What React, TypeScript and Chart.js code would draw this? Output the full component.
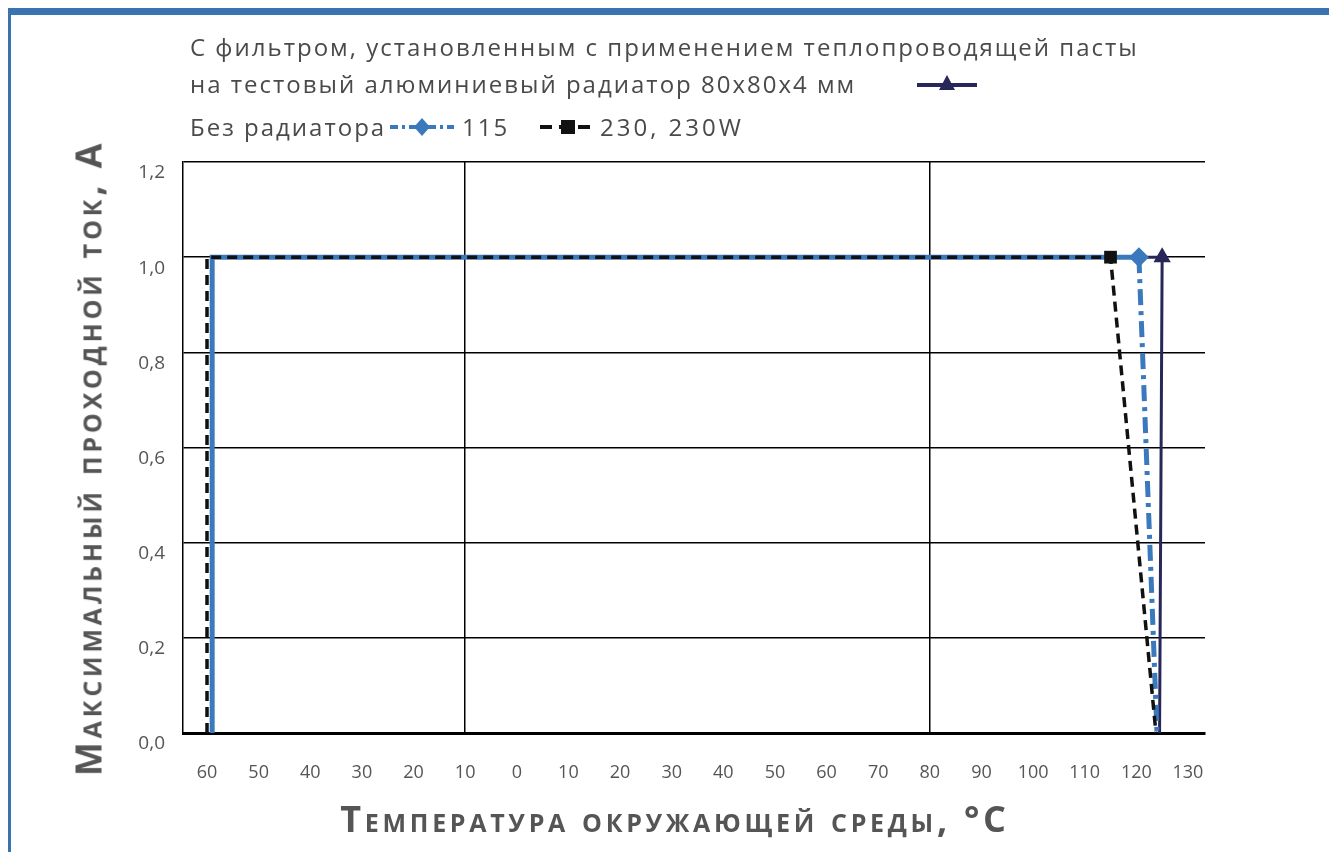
import React, { useEffect, useRef } from "react";
import { Chart, registerables } from "chart.js";
Chart.register(...registerables);

// ---- data ----
const xTickValues = [-60, -50, -40, -30, -20, -10, 0, 10, 20, 30, 40, 50, 60, 70, 80, 90, 100, 110, 120, 130];
const xTickLabels = ["60", "50", "40", "30", "20", "10", "0", "10", "20", "30", "40", "50", "60", "70", "80", "90", "100", "110", "120", "130"];
const xGridValues = [-10, 80];
const yTickValues = [0, 0.2, 0.4, 0.6, 0.8, 1.0, 1.2];
const yTickLabels = ["0,0", "0,2", "0,4", "0,6", "0,8", "1,0", "1,2"];

const filterLabel = "С фильтром, установленным с применением теплопроводящей пасты на тестовый алюминиевый радиатор 80x80x4 мм";
const filterX = [-59, -59, 125, 124.5];
const filterY = [0, 1.0, 1.0, 0];

const noRad115Label = "Без радиатора 115";
const noRad115X = [-59, -59, 120.5, 124];
const noRad115Y = [0, 1.0, 1.0, 0];

const noRad230Label = "Без радиатора 230, 230W";
const noRad230X = [-60, -60, 115, 123.8];
const noRad230Y = [0, 1.0, 1.0, 0];

const markerIndex = 2;

const NAVY = "#27275a";
const BLUE = "#3b79bd";
const BLACK = "#111111";
const TEXT = "#4a4a4a";

function pts(xs: number[], ys: number[]) {
  return xs.map((x, i) => ({ x, y: ys[i] }));
}

export default function App() {
  const ref = useRef<HTMLCanvasElement | null>(null);

  useEffect(() => {
    if (!ref.current) return;
    const radius = (r: number) => (ctx: any) => (ctx.dataIndex === markerIndex ? r : 0);
    const chart = new Chart(ref.current, {
      type: "line",
      data: {
        datasets: [
          {
            label: noRad230Label,
            data: pts(noRad230X, noRad230Y),
            borderColor: BLACK,
            backgroundColor: BLACK,
            borderWidth: 3.5,
            borderDash: [10, 6],
            pointStyle: "rect",
            pointRadius: radius(9),
            pointBorderWidth: 0,
            order: 1,
          },
          {
            label: noRad115Label,
            data: pts(noRad115X, noRad115Y),
            borderColor: BLUE,
            backgroundColor: BLUE,
            borderWidth: 5,
            pointStyle: "rectRot",
            pointRadius: radius(10),
            pointBorderWidth: 0,
            segment: {
              borderDash: (ctx: any) => (ctx.p0DataIndex >= 2 ? [16, 6, 4, 6] : undefined),
            },
            order: 2,
          },
          {
            label: filterLabel,
            data: pts(filterX, filterY),
            borderColor: NAVY,
            backgroundColor: NAVY,
            borderWidth: 3,
            pointStyle: "triangle",
            pointRadius: radius(10),
            pointBorderWidth: 0,
            order: 3,
          },
        ],
      },
      options: {
        animation: false,
        responsive: false,
        devicePixelRatio: 1,
        layout: { padding: { top: 162, right: 124, left: 0, bottom: 0 } },
        plugins: { legend: { display: false }, tooltip: { enabled: false } },
        elements: { line: { tension: 0 } },
        scales: {
          x: {
            type: "linear",
            min: -64.65,
            max: 133.3,
            afterBuildTicks: (scale: any) => {
              scale.ticks = xTickValues.map((v) => ({ value: v }));
            },
            afterFit: (scale: any) => {
              scale.height = 119;
            },
            ticks: {
              autoSkip: false,
              maxRotation: 0,
              padding: 29,
              color: "#555",
              font: { family: "Open Sans", size: 18 },
              callback: (_v: any, i: number) => xTickLabels[i],
            },
            grid: {
              drawTicks: false,
              color: (ctx: any) => (ctx.tick && xGridValues.includes(ctx.tick.value) ? "#000" : "rgba(0,0,0,0)"),
              lineWidth: 1.5,
            },
            border: { display: true, color: "#000", width: 3 },
          },
          y: {
            min: 0,
            max: 1.2,
            afterBuildTicks: (scale: any) => {
              scale.ticks = yTickValues.map((v) => ({ value: v }));
            },
            afterFit: (scale: any) => {
              scale.width = 183;
            },
            ticks: {
              padding: 18,
              labelOffset: 11,
              color: "#555",
              font: { family: "Open Sans", size: 19 },
              callback: (_v: any, i: number) => yTickLabels[i],
            },
            grid: { drawTicks: false, color: "#000", lineWidth: 1.5 },
            border: { display: true, color: "#000", width: 1.5 },
          },
        },
      },
    } as any);
    return () => chart.destroy();
  }, []);

  const legendText: React.CSSProperties = {
    position: "fixed",
    left: 190,
    fontFamily: "Open Sans",
    fontSize: 24,
    letterSpacing: 2,
    color: TEXT,
    whiteSpace: "nowrap",
    lineHeight: "30px",
    height: 30,
  };

  return (
    <div>
      <canvas ref={ref} width={1329} height={852} style={{ position: "fixed", left: 0, top: 0 }} />
      <div style={{ position: "fixed", left: 8, top: 8, width: 1321, height: 7, background: "#3a74b0" }} />
      <div style={{ position: "fixed", left: 8, top: 8, width: 3, height: 844, background: "#3a74b0" }} />

      <div style={{ ...legendText, top: 32 }}>С фильтром, установленным с применением теплопроводящей пасты</div>
      <div style={{ ...legendText, top: 69 }}>на тестовый алюминиевый радиатор 80x80x4 мм</div>
      <svg style={{ position: "fixed", left: 912, top: 72 }} width={70} height={24}>
        <line x1={5} y1={13} x2={65} y2={13} stroke={NAVY} strokeWidth={4} />
        <polygon points="35,3 43,18 27,18" fill={NAVY} />
      </svg>

      <div style={{ ...legendText, top: 112 }}>Без радиатора</div>
      <svg style={{ position: "fixed", left: 386, top: 115 }} width={72} height={24}>
        <line x1={4} y1={12} x2={68} y2={12} stroke={BLUE} strokeWidth={4} strokeDasharray="8 4 3 4" />
        <polygon points="36,3 44,12 36,21 28,12" fill={BLUE} />
      </svg>
      <div style={{ ...legendText, left: 462, top: 112 }}>115</div>
      <svg style={{ position: "fixed", left: 536, top: 115 }} width={64} height={24}>
        <line x1={4} y1={12} x2={60} y2={12} stroke={BLACK} strokeWidth={4} strokeDasharray="12 7" />
        <rect x={25} y={5} width={14} height={14} fill={BLACK} />
      </svg>
      <div style={{ ...legendText, left: 600, top: 112, letterSpacing: 3 }}>230, 230W</div>

      <div
        style={{
          position: "fixed",
          left: 88,
          top: 458,
          transform: "translate(-50%, -50%) rotate(-90deg)",
          fontFamily: "Open Sans",
          fontWeight: 700,
          fontSize: 36,
          fontVariant: "small-caps",
          letterSpacing: 3.8,
          color: "#555",
          whiteSpace: "nowrap",
        }}
      >
        Максимальный проходной ток, А
      </div>
      <div
        style={{
          position: "fixed",
          left: 675,
          top: 818,
          transform: "translate(-50%, -50%)",
          fontFamily: "Open Sans",
          fontWeight: 700,
          fontSize: 36,
          fontVariant: "small-caps",
          letterSpacing: 3.7,
          color: "#555",
          whiteSpace: "nowrap",
        }}
      >
        Температура окружающей среды, °С
      </div>
    </div>
  );
}
